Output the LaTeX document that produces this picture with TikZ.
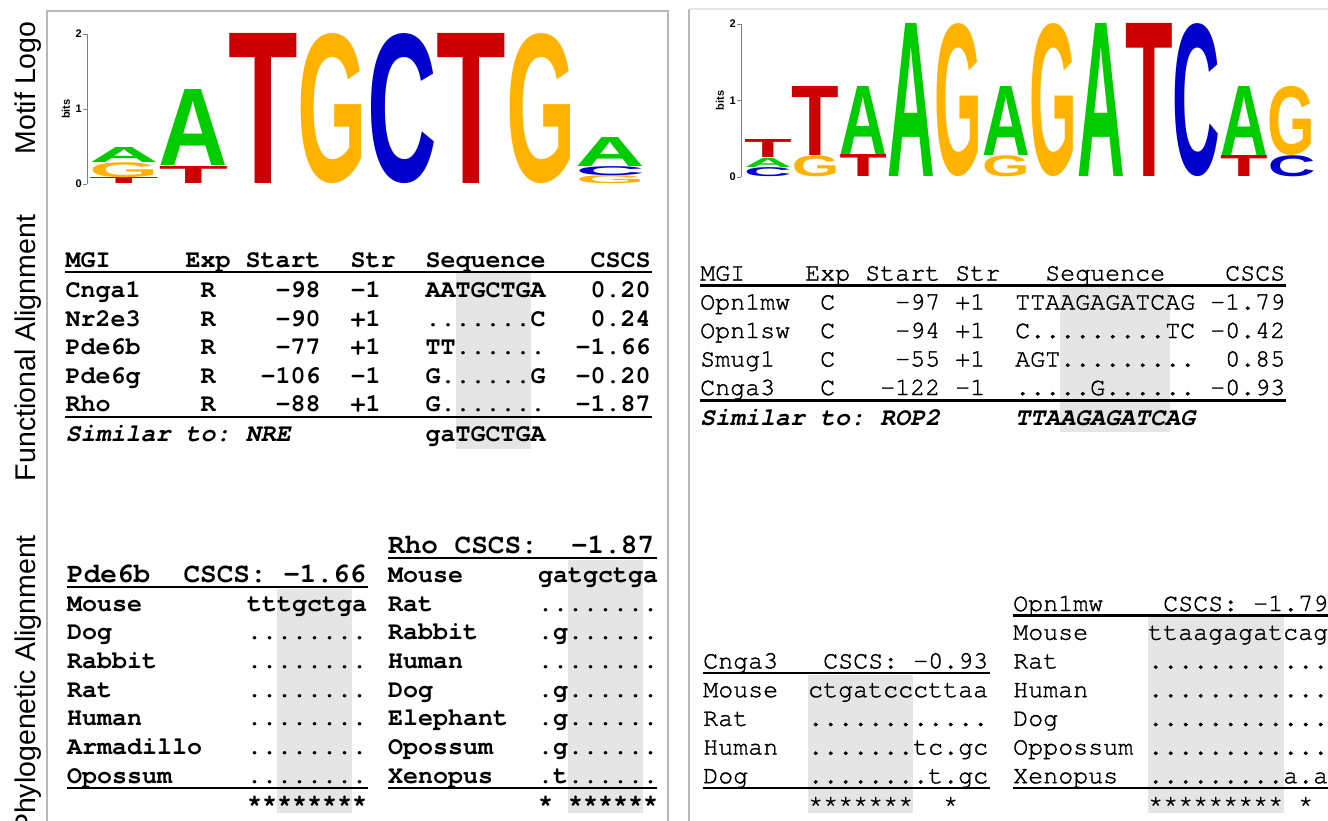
\documentclass[tikz,border=0pt]{standalone}
\usepackage{fontspec}
\usepackage{graphicx}
\setmainfont{Liberation Sans}
\newfontfamily\monofont{TeX Gyre Cursor}
\newfontfamily\plainmonofont[FakeBold=1.4]{TeX Gyre Cursor}
\newfontfamily\logofont{Liberation Sans}
\frenchspacing

\definecolor{LogoA}{rgb}{0.0,0.8,0.0}
\definecolor{LogoC}{rgb}{0.0,0.0,0.8}
\definecolor{LogoG}{rgb}{1.0,0.7,0.0}
\definecolor{LogoT}{rgb}{0.8,0.0,0.0}
\definecolor{ShadeColor}{rgb}{0.9,0.9,0.9}
\definecolor{FrameColor}{rgb}{0.72,0.72,0.72}

\newcommand{\stretched}[3]{\resizebox*{#1pt}{#2pt}{\bfseries #3}}

\tikzstyle{logo-letter}=[anchor=south west, inner sep=0pt, font=\logofont]
\tikzstyle{panel-title}=[anchor=base, rotate=90, inner sep=0pt,
                         font=\fontsize{28.5}{30}\selectfont]
\tikzstyle{axis-label}=[anchor=east, inner sep=0pt,
                        font=\bfseries\fontsize{11}{12}\selectfont]
\tikzstyle{row-base}=[anchor=base west, inner sep=0pt]
\tikzstyle{row-bold}=[row-base, font=\monofont\bfseries\fontsize{25}{28}\selectfont]
\tikzstyle{row-plain}=[row-base, font=\plainmonofont\fontsize{25}{28}\selectfont]
\tikzstyle{row-title}=[row-base, font=\monofont\bfseries\fontsize{27.7}{30}\selectfont]
\tikzstyle{row-rule}=[line width=2.2pt]
\tikzstyle{conserved}=[fill=ShadeColor]
\tikzstyle{panel-frame}=[draw=FrameColor, line width=1.5pt]

\begin{document}
\begin{tikzpicture}[x=1pt, y=-1pt]
    \useasboundingbox (0, 0) rectangle (1328, 820);

    % Panels
    % --------------------------------------------------------------------------
    \draw[panel-frame] (47, 830) -- (47, 11) -- (668, 11) -- (668, 830);
    \draw[panel-frame] (689, 830) -- (689, 9);
    \draw[panel-frame, draw=FrameColor!35] (689, 9) -- (1340, 9);

    \node at (35,  88) (title_logo)       [panel-title] {Motif Logo};
    \node at (35, 348) (title_functional) [panel-title] {Functional Alignment};
    \node at (35, 684) (title_phylo)      [panel-title] {Phylogenetic Alignment};

    % Conserved columns
    % --------------------------------------------------------------------------
    \fill[conserved] ( 455.5, 273) rectangle ( 530.5, 449);
    \fill[conserved] (1060.0, 286) rectangle (1170.0, 432);
    \fill[conserved] ( 277.0, 589) rectangle ( 352.0, 813);
    \fill[conserved] ( 568.0, 560) rectangle ( 643.0, 813);
    \fill[conserved] ( 808.0, 675) rectangle ( 913.0, 813);
    \fill[conserved] (1148.0, 617) rectangle (1284.0, 813);

    % Logo NRE
    % --------------------------------------------------------------------------
    \draw[gray, line width=1pt] (87, 34) -- (87, 184);
    \draw[gray, line width=1pt] (83, 34) -- (87, 34);
    \draw[gray, line width=1pt] (83, 109) -- (87, 109);
    \draw[gray, line width=1pt] (83, 184) -- (87, 184);
    \node at (82,  34) (la_tick_2) [axis-label] {2};
    \node at (82, 109) (la_tick_1) [axis-label] {1};
    \node at (82, 184) (la_tick_0) [axis-label] {0};
    \node at (66, 109) (la_bits)   [axis-label, anchor=center, rotate=90] {bits};

    \node at ( 89.0, 184) (la_1_t) [logo-letter, text=LogoT] {\stretched{69.5}{6}{T}};
    \node at ( 89.0, 178) (la_1_g) [logo-letter, text=LogoG] {\stretched{69.5}{15}{G}};
    \node at ( 89.0, 163) (la_1_a) [logo-letter, text=LogoA] {\stretched{69.5}{15}{A}};
    \node at (158.5, 184) (la_2_t) [logo-letter, text=LogoT] {\stretched{69.5}{17}{T}};
    \node at (158.5, 166) (la_2_a) [logo-letter, text=LogoA] {\stretched{69.5}{76}{A}};
    \node at (228.0, 184) (la_3_t) [logo-letter, text=LogoT] {\stretched{69.5}{150}{T}};
    \node at (297.5, 184) (la_4_g) [logo-letter, text=LogoG] {\stretched{69.5}{150}{G}};
    \node at (367.0, 184) (la_5_c) [logo-letter, text=LogoC] {\stretched{69.5}{150}{C}};
    \node at (436.5, 184) (la_6_t) [logo-letter, text=LogoT] {\stretched{69.5}{150}{T}};
    \node at (506.0, 184) (la_7_g) [logo-letter, text=LogoG] {\stretched{69.5}{150}{G}};
    \node at (575.5, 184) (la_8_g) [logo-letter, text=LogoG] {\stretched{69.5}{8}{G}};
    \node at (575.5, 176) (la_8_c) [logo-letter, text=LogoC] {\stretched{69.5}{9}{C}};
    \node at (575.5, 167) (la_8_a) [logo-letter, text=LogoA] {\stretched{69.5}{29}{A}};

    % Logo ROP2
    % --------------------------------------------------------------------------
    \draw[gray, line width=1pt] (741, 24) -- (741, 177);
    \draw[gray, line width=1pt] (737, 24) -- (741, 24);
    \draw[gray, line width=1pt] (737, 100.5) -- (741, 100.5);
    \draw[gray, line width=1pt] (737, 177) -- (741, 177);
    \node at (736,  24.0) (ra_tick_2) [axis-label] {2};
    \node at (736, 100.5) (ra_tick_1) [axis-label] {1};
    \node at (736, 177.0) (ra_tick_0) [axis-label] {0};
    \node at (720, 100.5) (ra_bits)   [axis-label, anchor=center, rotate=90] {bits};

    \node at ( 744.0, 177) (ra_1_c)  [logo-letter, text=LogoC] {\stretched{47.6}{9}{C}};
    \node at ( 744.0, 168) (ra_1_a)  [logo-letter, text=LogoA] {\stretched{47.6}{9}{A}};
    \node at ( 744.0, 158) (ra_1_t)  [logo-letter, text=LogoT] {\stretched{47.6}{18}{T}};
    \node at ( 791.6, 177) (ra_2_g)  [logo-letter, text=LogoG] {\stretched{47.6}{21}{G}};
    \node at ( 791.6, 156) (ra_2_t)  [logo-letter, text=LogoT] {\stretched{47.6}{69}{T}};
    \node at ( 839.2, 177) (ra_3_t)  [logo-letter, text=LogoT] {\stretched{47.6}{22}{T}};
    \node at ( 839.2, 155) (ra_3_a)  [logo-letter, text=LogoA] {\stretched{47.6}{68}{A}};
    \node at ( 886.8, 177) (ra_4_a)  [logo-letter, text=LogoA] {\stretched{47.6}{153}{A}};
    \node at ( 934.4, 177) (ra_5_g)  [logo-letter, text=LogoG] {\stretched{47.6}{153}{G}};
    \node at ( 982.0, 177) (ra_6_g)  [logo-letter, text=LogoG] {\stretched{47.6}{21}{G}};
    \node at ( 982.0, 156) (ra_6_a)  [logo-letter, text=LogoA] {\stretched{47.6}{69}{A}};
    \node at (1029.6, 177) (ra_7_g)  [logo-letter, text=LogoG] {\stretched{47.6}{153}{G}};
    \node at (1077.2, 177) (ra_8_a)  [logo-letter, text=LogoA] {\stretched{47.6}{153}{A}};
    \node at (1124.8, 177) (ra_9_t)  [logo-letter, text=LogoT] {\stretched{47.6}{153}{T}};
    \node at (1172.4, 177) (ra_10_c) [logo-letter, text=LogoC] {\stretched{47.6}{153}{C}};
    \node at (1220.0, 177) (ra_11_t) [logo-letter, text=LogoT] {\stretched{47.6}{21}{T}};
    \node at (1220.0, 156) (ra_11_a) [logo-letter, text=LogoA] {\stretched{47.6}{69}{A}};
    \node at (1267.6, 177) (ra_12_c) [logo-letter, text=LogoC] {\stretched{47.6}{21}{C}};
    \node at (1267.6, 156) (ra_12_g) [logo-letter, text=LogoG] {\stretched{47.6}{69}{G}};

    % Functional alignment tables
    % --------------------------------------------------------------------------
    \node at (65.5, 267.0) (nre_head)  [row-bold] {MGI~~~~~Exp~Start~~Str~~Sequence~~~CSCS};
    \node at (65.5, 297.5) (nre_cnga1) [row-bold] {Cnga1~~~~R~~~~-98~~-1~~~AATGCTGA~~~0.20};
    \node at (65.5, 326.0) (nre_nr2e3) [row-bold] {Nr2e3~~~~R~~~~-90~~+1~~~.......C~~~0.24};
    \node at (65.5, 354.5) (nre_pde6b) [row-bold] {Pde6b~~~~R~~~~-77~~+1~~~TT......~~-1.66};
    \node at (65.5, 383.0) (nre_pde6g) [row-bold] {Pde6g~~~~R~~~-106~~-1~~~G......G~~-0.20};
    \node at (65.5, 411.5) (nre_rho)   [row-bold] {Rho~~~~~~R~~~~-88~~+1~~~G.......~~-1.87};
    \node at (65.5, 441.0) (nre_sim)   [row-bold] {{\itshape Similar to: NRE}~~~~~~~~~gaTGCTGA};
    \draw[row-rule] (65, 272) -- (652, 272);
    \draw[row-rule] (65, 417) -- (652, 417);

    \node at (700, 280.5) (rop_head)   [row-plain] {MGI~~~~Exp~Start~Str~~~Sequence~~~~CSCS};
    \node at (700, 309.5) (rop_opn1mw) [row-plain] {Opn1mw~~C~~~~-97~+1~~TTAAGAGATCAG~-1.79};
    \node at (700, 338.0) (rop_opn1sw) [row-plain] {Opn1sw~~C~~~~-94~+1~~C.........TC~-0.42};
    \node at (700, 366.5) (rop_smug1)  [row-plain] {Smug1~~~C~~~~-55~+1~~AGT.........~~0.85};
    \node at (700, 395.0) (rop_cnga3)  [row-plain] {Cnga3~~~C~~~-122~-1~~.....G......~-0.93};
    \node at (700, 425.0) (rop_sim)    [row-bold]  {\itshape Similar to: ROP2~~~~~TTAAGAGATCAG};
    \draw[row-rule] (700, 285.5) -- (1286, 285.5);
    \draw[row-rule] (700, 400.5) -- (1286, 400.5);

    % Phylogenetic alignments
    % --------------------------------------------------------------------------
    \node at (67, 582.3) (pde6b_head)  [row-title] {Pde6b~~CSCS:~-1.66};
    \node at (67, 611.0) (pde6b_mouse) [row-bold] {Mouse~~~~~~~tttgctga};
    \node at (67, 639.7) (pde6b_dog)   [row-bold] {Dog~~~~~~~~~........};
    \node at (67, 668.4) (pde6b_rabbit)[row-bold] {Rabbit~~~~~~........};
    \node at (67, 697.1) (pde6b_rat)   [row-bold] {Rat~~~~~~~~~........};
    \node at (67, 725.8) (pde6b_human) [row-bold] {Human~~~~~~~........};
    \node at (67, 754.5) (pde6b_arma)  [row-bold] {Armadillo~~~........};
    \node at (67, 783.2) (pde6b_opos)  [row-bold] {Opossum~~~~~........};
    \node at (247, 811.9) (pde6b_star) [row-bold] {********};
    \draw[row-rule] (67, 587) -- (368, 587);
    \draw[row-rule] (67, 788) -- (368, 788);

    \node at (388, 553.6) (rho_head)   [row-title] {Rho~CSCS:~~-1.87};
    \node at (388, 582.3) (rho_mouse)  [row-bold] {Mouse~~~~~gatgctga};
    \node at (388, 611.0) (rho_rat)    [row-bold] {Rat~~~~~~~........};
    \node at (388, 639.7) (rho_rabbit) [row-bold] {Rabbit~~~~.g......};
    \node at (388, 668.4) (rho_human)  [row-bold] {Human~~~~~........};
    \node at (388, 697.1) (rho_dog)    [row-bold] {Dog~~~~~~~.g......};
    \node at (388, 725.8) (rho_eleph)  [row-bold] {Elephant~~.g......};
    \node at (388, 754.5) (rho_opos)   [row-bold] {Opossum~~~.g......};
    \node at (388, 783.2) (rho_xeno)   [row-bold] {Xenopus~~~.t......};
    \node at (538, 811.9) (rho_star)   [row-bold] {*~******};
    \draw[row-rule] (388, 558) -- (657, 558);
    \draw[row-rule] (388, 788) -- (657, 788);

    \node at (703, 668.4) (cnga3_head)  [row-plain] {Cnga3~~~CSCS:~-0.93};
    \node at (703, 697.1) (cnga3_mouse) [row-plain] {Mouse~~ctgatcccttaa};
    \node at (703, 725.8) (cnga3_rat)   [row-plain] {Rat~~~~............};
    \node at (703, 754.5) (cnga3_human) [row-plain] {Human~~.......tc.gc};
    \node at (703, 783.2) (cnga3_dog)   [row-plain] {Dog~~~~........t.gc};
    \node at (808, 811.9) (cnga3_star)  [row-plain] {*******~~*};
    \draw[row-rule] (703, 673) -- (990, 673);
    \draw[row-rule] (703, 788) -- (990, 788);

    \node at (1013, 611.0) (opn1mw_head)  [row-plain] {Opn1mw~~~~CSCS:~-1.79};
    \node at (1013, 639.7) (opn1mw_mouse) [row-plain] {Mouse~~~~ttaagagatcag};
    \node at (1013, 668.4) (opn1mw_rat)   [row-plain] {Rat~~~~~~............};
    \node at (1013, 697.1) (opn1mw_human) [row-plain] {Human~~~~............};
    \node at (1013, 725.8) (opn1mw_dog)   [row-plain] {Dog~~~~~~............};
    \node at (1013, 754.5) (opn1mw_opos)  [row-plain] {Oppossum~............};
    \node at (1013, 783.2) (opn1mw_xeno)  [row-plain] {Xenopus~~.........a.a};
    \node at (1148, 811.9) (opn1mw_star)  [row-plain] {*********~*};
    \draw[row-rule] (1013, 615.5) -- (1340, 615.5);
    \draw[row-rule] (1013, 788) -- (1340, 788);
\end{tikzpicture}
\end{document}
